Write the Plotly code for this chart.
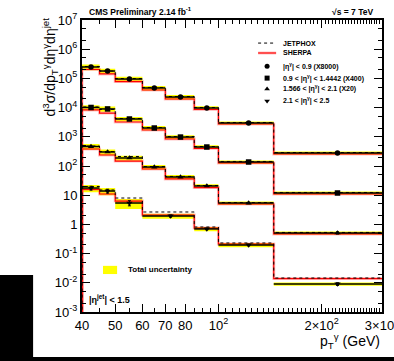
import plotly.graph_objects as go

# ---------------- data ----------------
edges_a = [40, 45, 50, 60, 70, 85, 100, 145, 300]
edges_b = [40, 45, 50, 60, 85, 100, 145, 300]

series_labels = [
    "|η<sup>γ</sup>| < 0.9 (X8000)",
    "0.9 < |η<sup>γ</sup>| < 1.4442 (X400)",
    "1.566 < |η<sup>γ</sup>| < 2.1 (X20)",
    "2.1 < |η<sup>γ</sup>| < 2.5",
]
series_symbols = ["circle", "square", "triangle-up", "triangle-down"]

data_s1 = [2.46e5, 1.79e5, 9.5e4, 4.7e4, 2.3e4, 9.7e3, 2.97e3, 2.8e2]
data_s2 = [1.01e4, 9.0e3, 4.07e3, 2.0e3, 9.8e2, 4.47e2, 1.37e2, 11.9]
data_s3 = [4.65e2, 3.02e2, 1.88e2, 92, 42, 20.7, 5.4, 0.51]
data_s4 = [17.6, 13.9, 5.4, 1.94, 0.70, 0.197, 0.0091]

sherpa_s1 = [2.02e5, 1.42e5, 7.8e4, 4.0e4, 1.97e4, 8.6e3, 2.74e3, 2.58e2]
sherpa_s2 = [8.3e3, 6.5e3, 3.21e3, 1.71e3, 8.4e2, 3.97e2, 1.27e2, 11.0]
sherpa_s3 = [3.82e2, 2.38e2, 1.48e2, 79, 36, 18.3, 5.0, 0.47]
sherpa_s4 = [15.7, 11.0, 6.3, 2.1, 0.75, 0.213, 0.0140]

jetphox_s1 = [2.56e5, 1.79e5, 9.9e4, 4.9e4, 2.4e4, 1.01e4, 3.09e3, 2.9e2]
jetphox_s2 = [1.05e4, 8.6e3, 4.23e3, 2.08e3, 1.02e3, 4.65e2, 1.43e2, 12.4]
jetphox_s3 = [4.84e2, 3.14e2, 2.12e2, 96, 44, 21.5, 5.6, 0.53]
jetphox_s4 = [19.9, 15.1, 8.0, 2.66, 0.815, 0.231, 0.0146]

totunc_s1 = [0.22, 0.20, 0.20, 0.18, 0.17, 0.15, 0.12, 0.12]
totunc_s2 = [0.20, 0.20, 0.18, 0.17, 0.15, 0.14, 0.12, 0.12]
totunc_s3 = [0.22, 0.22, 0.20, 0.18, 0.16, 0.15, 0.12, 0.12]
totunc_s4 = [0.28, 0.28, 0.38, 0.20, 0.16, 0.16, 0.13]

statunc_s1 = [0.03, 0.03, 0.03, 0.03, 0.03, 0.03, 0.03, 0.04]
statunc_s2 = [0.03, 0.03, 0.03, 0.03, 0.03, 0.03, 0.03, 0.05]
statunc_s3 = [0.04, 0.04, 0.04, 0.04, 0.04, 0.04, 0.05, 0.08]
statunc_s4 = [0.15, 0.15, 0.20, 0.08, 0.06, 0.06, 0.10]

x_tickvals = [40, 50, 60, 70, 80, 100, 200, 300]
x_ticktext = ["40", "50", "60", "70", "80", "10<sup>2</sup>", "2×10<sup>2</sup>", "3×10<sup>2</sup>"]
y_tickvals = [1e-3, 1e-2, 1e-1, 1, 10, 1e2, 1e3, 1e4, 1e5, 1e6, 1e7]
y_ticktext = ["10<sup>-3</sup>", "10<sup>-2</sup>", "10<sup>-1</sup>", "1", "10",
              "10<sup>2</sup>", "10<sup>3</sup>", "10<sup>4</sup>", "10<sup>5</sup>",
              "10<sup>6</sup>", "10<sup>7</sup>"]

all_edges = [edges_a, edges_a, edges_a, edges_b]
all_data = [data_s1, data_s2, data_s3, data_s4]
all_sherpa = [sherpa_s1, sherpa_s2, sherpa_s3, sherpa_s4]
all_jetphox = [jetphox_s1, jetphox_s2, jetphox_s3, jetphox_s4]
all_tot = [totunc_s1, totunc_s2, totunc_s3, totunc_s4]
all_stat = [statunc_s1, statunc_s2, statunc_s3, statunc_s4]

FONT = "Liberation Sans, Arial, sans-serif"
fig = go.Figure()

# yellow total-uncertainty boxes
for e, v, u in zip(all_edges, all_data, all_tot):
    bx, by = [], []
    for j in range(len(v)):
        lo, hi = e[j], e[j + 1]
        y0, y1 = v[j] * (1 - u[j]), v[j] * (1 + u[j])
        bx += [lo, hi, hi, lo, lo, None]
        by += [y0, y0, y1, y1, y0, None]
    fig.add_trace(go.Scatter(x=bx, y=by, mode="lines", fill="toself",
                             fillcolor="#FFFF00", line=dict(width=0),
                             hoverinfo="skip", showlegend=False))

# SHERPA and JETPHOX step histograms
for e, s, jp in zip(all_edges, all_sherpa, all_jetphox):
    xs = [e[0]] + e
    fig.add_trace(go.Scatter(x=xs, y=[1e-6] + s + [s[-1]], mode="lines",
                             line=dict(color="rgba(255,90,90,0.35)", width=3, shape="hv"),
                             hoverinfo="skip", showlegend=False))
    fig.add_trace(go.Scatter(x=xs, y=[1e-6] + s + [s[-1]], mode="lines",
                             line=dict(color="#FF0000", width=1.2, shape="hv"),
                             hoverinfo="skip", showlegend=False))
    fig.add_trace(go.Scatter(x=xs, y=[1e-6] + jp + [jp[-1]], mode="lines",
                             line=dict(color="black", width=1, dash="dot", shape="hv"),
                             hoverinfo="skip", showlegend=False))

# data: horizontal bin lines, markers and stat error bars
for e, v, st, sym in zip(all_edges, all_data, all_stat, series_symbols):
    hx, hy = [], []
    for j in range(len(v)):
        hx += [e[j], e[j + 1], None]
        hy += [v[j], v[j], None]
    fig.add_trace(go.Scatter(x=hx, y=hy, mode="lines",
                             line=dict(color="black", width=1.5),
                             hoverinfo="skip", showlegend=False))
    centers = [(e[j] + e[j + 1]) / 2 for j in range(len(v))]
    fig.add_trace(go.Scatter(x=centers, y=v, mode="markers",
                             marker=dict(symbol=sym, size=5.5, color="black"),
                             error_y=dict(type="data", array=[a * b for a, b in zip(v, st)],
                                          color="black", thickness=1, width=1.5),
                             showlegend=False))

# legend markers on an overlay axis (paper-like 0..1)
leg_marker_y = [0.842, 0.801, 0.764, 0.723]
fig.add_trace(go.Scatter(x=[0.617] * 4, y=leg_marker_y, mode="markers",
                         marker=dict(symbol=series_symbols, size=5, color="black"),
                         xaxis="x2", yaxis="y2", showlegend=False, cliponaxis=False,
                         hoverinfo="skip"))

shapes = [
    dict(type="line", xref="paper", yref="paper", x0=0.587, x1=0.647, y0=0.921, y1=0.921,
         line=dict(color="black", width=1, dash="dot")),
    dict(type="line", xref="paper", yref="paper", x0=0.587, x1=0.647, y0=0.887, y1=0.887,
         line=dict(color="rgba(255,90,90,0.35)", width=3)),
    dict(type="line", xref="paper", yref="paper", x0=0.587, x1=0.647, y0=0.887, y1=0.887,
         line=dict(color="#FF0000", width=1.2)),
    dict(type="rect", xref="paper", yref="paper", x0=0.07, x1=0.117, y0=0.130, y1=0.158,
         fillcolor="#FFFF00", line=dict(width=0)),
    # screenshot artefacts: black block bottom-left and black bar at bottom
    dict(type="rect", xref="paper", yref="paper", x0=-0.28, x1=-0.163, y0=-0.16, y1=0.127,
         fillcolor="black", line=dict(width=0), layer="above"),
    dict(type="rect", xref="paper", yref="paper", x0=-0.28, x1=1.05, y0=-0.17, y1=-0.154,
         fillcolor="black", line=dict(width=0), layer="above"),
]

annotations = []
leg_text_y = [0.921, 0.887] + leg_marker_y
leg_texts = ["JETPHOX", "SHERPA"] + series_labels
for t, yy in zip(leg_texts, leg_text_y):
    annotations.append(dict(text="<b>" + t + "</b>", xref="paper", yref="paper",
                            x=0.663, y=yy, xanchor="left", yanchor="middle",
                            showarrow=False, font=dict(size=7, family=FONT, color="black")))
annotations += [
    dict(text="<b>Total uncertainty</b>", xref="paper", yref="paper", x=0.147, y=0.144,
         xanchor="left", yanchor="middle", showarrow=False,
         font=dict(size=8, family=FONT, color="black")),
    dict(text="<b>|η<sup>jet</sup>| < 1.5</b>", xref="paper", yref="paper", x=0.015, y=0.043,
         xanchor="left", yanchor="middle", showarrow=False,
         font=dict(size=9, family=FONT, color="black")),
    dict(text="<b>CMS Preliminary 2.14 fb<sup>-1</sup></b>", xref="paper", yref="paper",
         x=0.018, y=1.028, xanchor="left", yanchor="middle", showarrow=False,
         font=dict(size=8.5, family=FONT, color="black")),
    dict(text="<b>√s = 7 TeV</b>", xref="paper", yref="paper",
         x=0.978, y=1.028, xanchor="right", yanchor="middle", showarrow=False,
         font=dict(size=8.5, family=FONT, color="black")),
    dict(text="d<sup>3</sup>σ/dp<sub>T</sub><sup>γ</sup>dη<sup>γ</sup>dη<sup>jet</sup>",
         xref="paper", yref="paper", x=-0.107, y=0.84, xanchor="center", yanchor="middle",
         textangle=-90, showarrow=False, font=dict(size=14, family=FONT, color="black")),
    dict(text="p<sub>T</sub><sup>γ</sup> (GeV)", xref="paper", yref="paper",
         x=1.0, y=-0.1, xanchor="right", yanchor="middle", showarrow=False,
         font=dict(size=14, family=FONT, color="black")),
]

axis_common = dict(showline=True, linewidth=2, linecolor="black", mirror="allticks",
                   ticks="inside", ticklen=8, tickwidth=1, tickcolor="black",
                   showgrid=False, zeroline=False, automargin=False,
                   tickfont=dict(size=13, family=FONT, color="black"),
                   minor=dict(ticks="inside", ticklen=4, tickcolor="black", showgrid=False))

fig.update_layout(
    width=394, height=361,
    margin=dict(l=82, r=12, t=20, b=49),
    paper_bgcolor="white", plot_bgcolor="white",
    showlegend=False,
    xaxis=dict(type="log", range=[1.60206, 2.4771215], tickmode="array",
               tickvals=x_tickvals, ticktext=x_ticktext, ticklabeloverflow="allow",
               **axis_common),
    yaxis=dict(type="log", range=[-3, 7], tickmode="array",
               tickvals=y_tickvals, ticktext=y_ticktext, **axis_common),
    xaxis2=dict(overlaying="x", range=[0, 1], visible=False),
    yaxis2=dict(overlaying="y", range=[0, 1], visible=False),
    shapes=shapes, annotations=annotations,
)

fig.write_html("out.html")
